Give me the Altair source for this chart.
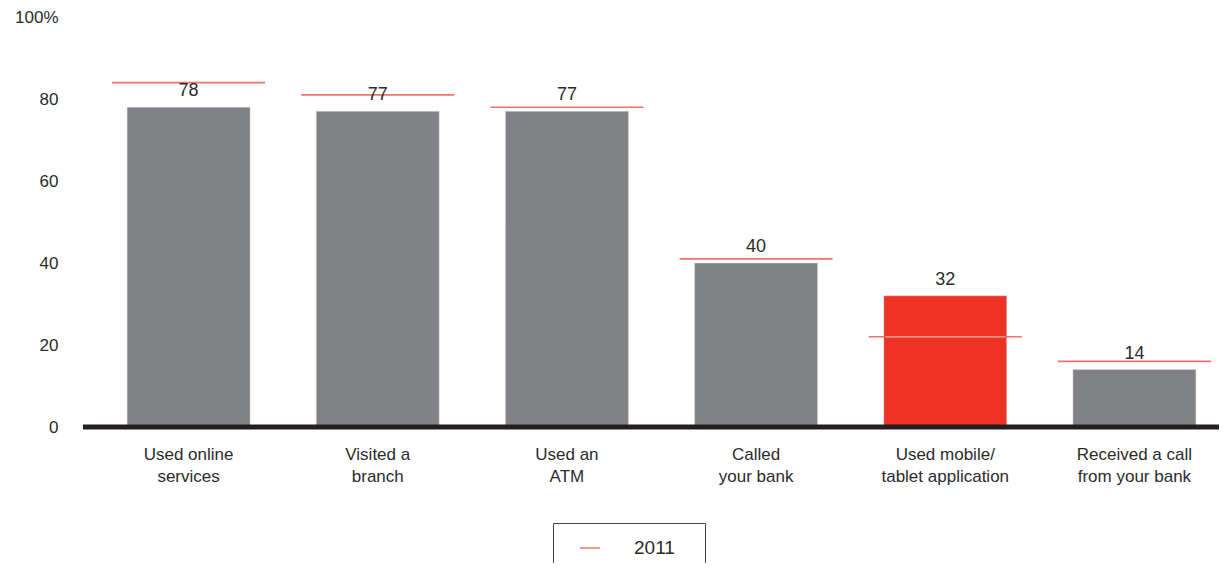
import altair as alt
import pandas as pd

categories = [
    "Used online|services",
    "Visited a|branch",
    "Used an|ATM",
    "Called|your bank",
    "Used mobile/|tablet application",
    "Received a call|from your bank",
]
values_2013 = [78, 77, 77, 40, 32, 14]
values_2011 = [84, 81, 78, 41, 22, 16]
highlight_category = "Used mobile/|tablet application"
series_2011 = "2011"
y_ticks = [0, 20, 40, 60, 80, 100]

df = pd.DataFrame({
    "cat": categories,
    "value": values_2013,
    "prev": values_2011,
    "series": [series_2011] * len(categories),
})

FONT = "Liberation Sans"
GREY = "#818285"
RED = "#ee3224"
LINE_RED = "#e8382b"
TEXT = "#2b2b2b"

x_scale = alt.Scale(paddingInner=0.35, paddingOuter=0.175, range=[0, 1135])

x_enc = alt.X(
    "cat:N",
    sort=categories,
    scale=x_scale,
    axis=alt.Axis(
        title=None, domain=False, ticks=False, labelAngle=0,
        labelExpr="split(datum.label, '|')",
        labelFont=FONT, labelFontSize=17, labelColor=TEXT,
        labelPadding=19, labelLineHeight=22, labelBaseline="top",
    ),
)
y_scale = alt.Scale(domain=[0, 100], nice=False)

base = alt.Chart(df)

bars = base.mark_bar(stroke="#d9d9d9", strokeWidth=0.5).encode(
    x=x_enc,
    y=alt.Y(
        "value:Q", scale=y_scale,
        axis=alt.Axis(
            title=None, values=y_ticks, domain=False, ticks=False, grid=False,
            labelExpr="datum.value == 100 ? '100%' : datum.label",
            labelFont=FONT, labelFontSize=17, labelColor=TEXT, labelPadding=36,
        ),
    ),
    color=alt.condition(
        alt.datum.cat == highlight_category, alt.value(RED), alt.value(GREY)
    ),
)

labels = base.mark_text(
    baseline="middle", dy=-16, font=FONT, fontSize=18, color=TEXT
).encode(
    x=alt.X("cat:N", sort=categories, scale=x_scale),
    y=alt.Y("value:Q", scale=y_scale),
    text=alt.Text("value:Q"),
)

# trailing non-breaking spaces, closed by a zero-width space so they are not trimmed
legend_label_expr = "datum.label + '" + "\u00a0" * 3 + "\u200b'"

ticks_2011 = base.mark_tick(size=153, thickness=1.6).encode(
    x=alt.X("cat:N", sort=categories, scale=x_scale),
    y=alt.Y("prev:Q", scale=y_scale),
    color=alt.Color(
        "series:N",
        scale=alt.Scale(domain=[series_2011], range=[LINE_RED]),
        legend=alt.Legend(
            title=None, orient="none", legendX=459, legendY=506,
            symbolType="stroke", symbolSize=400, symbolStrokeWidth=1.5,
            symbolStrokeColor=LINE_RED, symbolOffset=12, labelOffset=33,
            labelFont=FONT, labelFontSize=19, labelColor=TEXT,
            labelExpr=legend_label_expr,
            padding=14, strokeColor="#444444",
        ),
    ),
)

inner_white = base.transform_filter("datum.prev < datum.value").mark_tick(
    size=121, thickness=1.2, color="#ffe5e2"
).encode(
    x=alt.X("cat:N", sort=categories, scale=x_scale),
    y=alt.Y("prev:Q", scale=y_scale),
)

zero_line = alt.Chart(pd.DataFrame({"zero": [0]})).mark_rule(
    color="#231f20", strokeWidth=5
).encode(
    y=alt.Y("zero:Q", scale=y_scale),
    x=alt.value(-11),
    x2=alt.value(1160),
)

chart = alt.layer(bars, ticks_2011, inner_white, labels, zero_line).properties(
    width=1125,
    height=410,
    autosize=alt.AutoSizeParams(type="none"),
    padding={"left": 86, "top": 9, "right": 0, "bottom": 136},
).configure_view(stroke=None)

chart.save("out.html", embed_options={"renderer": "svg", "actions": False})
